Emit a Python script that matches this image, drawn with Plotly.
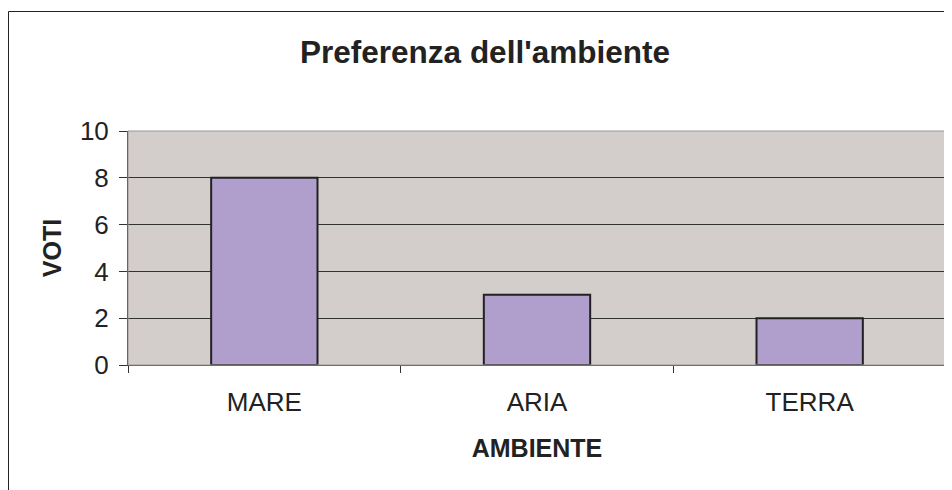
import plotly.graph_objects as go

categories = ["MARE", "ARIA", "TERRA"]
votes = [8, 3, 2]
y_ticks = [0, 2, 4, 6, 8, 10]

# page body has an 8px margin; figure sized so it fits the 952x490 window
W, H = 944, 482
L, R, T, B = 120, 6, 123, 125
pw, ph = W - L - R, H - T - B

fig = go.Figure(go.Bar(
    x=categories, y=votes,
    marker=dict(color="#B09ECC", line=dict(color="#222222", width=2)),
    width=0.39,
))

font_family = "Liberation Sans, Arial, sans-serif"

fig.update_layout(
    width=W, height=H,
    margin=dict(l=L, r=R, t=T, b=B, pad=0),
    paper_bgcolor="white",
    plot_bgcolor="#D3CDCB",
    showlegend=False,
    font=dict(family=font_family, color="#222222", size=26),
    title=dict(text="<b>Preferenza dell'ambiente</b>", x=477 / W, xanchor="center",
               y=1 - 44 / H, yanchor="middle", yref="container",
               font=dict(size=31.5, color="#222222")),
    xaxis=dict(
        type="category", tickson="boundaries", ticks="outside", ticklen=7,
        tickcolor="#333333", tickwidth=1, showgrid=False, showline=True,
        linecolor="#444444", linewidth=1, zeroline=False,
        ticklabelstandoff=14,
        title=dict(text="<b>AMBIENTE</b>", standoff=23, font=dict(size=25)),
    ),
    yaxis=dict(
        range=[0, 10], tickvals=y_ticks, ticks="outside", ticklen=8,
        tickcolor="#333333", tickwidth=1, showgrid=True, gridcolor="#333333",
        gridwidth=1, showline=True, linecolor="#333333", linewidth=1,
        zeroline=False, ticklabelstandoff=5,
        title=dict(text="<b>VOTI</b>", standoff=11, font=dict(size=25)),
    ),
    shapes=[
        dict(type="rect", xref="paper", yref="paper", x0=0, x1=1, y0=0, y1=1,
             line=dict(color="#9E9694", width=1), layer="above"),
        dict(type="rect", xref="paper", yref="paper",
             x0=(0.5 - L) / pw, x1=(W + 20 - L) / pw,
             y0=-(H + 20 - T - ph) / ph, y1=1 + (T - 3.5) / ph,
             line=dict(color="#222222", width=1), fillcolor="rgba(0,0,0,0)",
             layer="below"),
    ],
)

fig.write_html("out.html")
